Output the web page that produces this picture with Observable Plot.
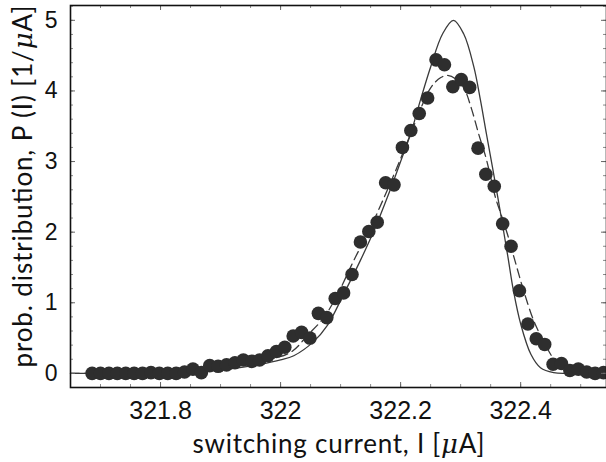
<!DOCTYPE html>
<html>
<head>
<meta charset="utf-8">
<script src="https://cdn.jsdelivr.net/npm/d3@7"></script>
<script src="https://cdn.jsdelivr.net/npm/@observablehq/plot@0.6"></script>
<style>
  html, body { margin: 0; padding: 0; background: #fff; }
  #chart { width: 606px; height: 462px; }
</style>
</head>
<body>
<div id="chart"></div>
<script>
// ---- measured switching-current histogram (dots) ----
const currentI = [
  321.686, 321.700, 321.714, 321.728, 321.742, 321.756, 321.770, 321.784, 321.798, 321.812,
  321.826, 321.840, 321.854, 321.868, 321.882, 321.896, 321.910, 321.924, 321.938, 321.952,
  321.965, 321.979, 321.993, 322.007, 322.021, 322.035, 322.049, 322.063, 322.077, 322.091,
  322.105, 322.119, 322.133, 322.147, 322.161, 322.175, 322.189, 322.203, 322.217, 322.231,
  322.245, 322.259, 322.273, 322.287, 322.301, 322.315, 322.329, 322.342, 322.356, 322.370,
  322.384, 322.398, 322.412, 322.426, 322.440, 322.454, 322.468, 322.482, 322.496, 322.510,
  322.524, 322.538
];
const measuredP = [
  0.00, 0.00, 0.00, 0.00, 0.00, 0.00, 0.00, 0.01, 0.00, 0.00,
  0.00, 0.02, 0.06, 0.01, 0.11, 0.10, 0.12, 0.15, 0.19, 0.17,
  0.19, 0.25, 0.31, 0.37, 0.53, 0.58, 0.50, 0.85, 0.79, 1.06,
  1.14, 1.40, 1.86, 2.01, 2.14, 2.70, 2.67, 3.20, 3.44, 3.68,
  3.90, 4.44, 4.37, 4.06, 4.16, 4.05, 3.19, 2.82, 2.65, 2.12,
  1.80, 1.17, 0.70, 0.49, 0.41, 0.13, 0.14, 0.04, 0.06, 0.02,
  0.00, 0.01
];

// ---- theory curve 1 (solid) ----
const solidI = [
  321.650, 321.733, 321.800, 321.855, 321.912, 321.967, 322.000, 322.022, 322.055, 322.078,
  322.105, 322.133, 322.158, 322.180, 322.200, 322.217, 322.233, 322.250, 322.270, 322.288,
  322.305, 322.322, 322.333, 322.343, 322.353, 322.362, 322.378, 322.388, 322.400, 322.417,
  322.433, 322.455, 322.478, 322.543
];
const solidP = [
  0.00, 0.003, 0.01, 0.025, 0.06, 0.13, 0.19, 0.25, 0.45, 0.68,
  1.12, 1.60, 2.07, 2.54, 3.00, 3.40, 3.87, 4.34, 4.81, 5.00,
  4.81, 4.34, 3.87, 3.39, 2.92, 2.49, 1.69, 1.17, 0.70, 0.27,
  0.08, 0.01, 0.00, 0.00
];

// ---- theory curve 2 (dashed) ----
const dashedI = [
  321.650, 321.733, 321.800, 321.855, 321.912, 321.967, 322.017, 322.045, 322.072, 322.095,
  322.122, 322.150, 322.175, 322.198, 322.217, 322.228, 322.238, 322.247, 322.257, 322.267,
  322.278, 322.292, 322.305, 322.318, 322.330, 322.342, 322.350, 322.358, 322.367, 322.378,
  322.392, 322.405, 322.422, 322.438, 322.458, 322.478, 322.500, 322.543
];
const dashedP = [
  0.00, 0.005, 0.015, 0.035, 0.08, 0.17, 0.30, 0.54, 0.79, 1.12,
  1.60, 2.07, 2.54, 3.00, 3.40, 3.63, 3.84, 4.00, 4.12, 4.19,
  4.22, 4.17, 4.05, 3.75, 3.39, 3.06, 2.78, 2.49, 2.26, 1.97,
  1.55, 1.17, 0.74, 0.46, 0.18, 0.10, 0.04, 0.01
];

// ---- ticks and labels ----
const xTickValues = [321.8, 322, 322.2, 322.4];
const xTickLabels = ["321.8", "322", "322.2", "322.4"];
const yTickValues = [0, 1, 2, 3, 4, 5];
const yTickLabels = ["0", "1", "2", "3", "4", "5"];
const xMinorTicks = d3.range(321.70, 322.54, 0.05).map(v => +v.toFixed(2));
const yMinorTicks = d3.range(0, 5.21, 0.2).map(v => +v.toFixed(1));
const xLabel = "switching current, I [μA]";
const yLabel = "prob. distribution, P (I) [1/μA]";

const points = currentI.map((x, i) => ({x, y: measuredP[i]}));
const solid = solidI.map((x, i) => ({x, y: solidP[i]}));
const dashed = dashedI.map((x, i) => ({x, y: dashedP[i]}));

const W = 606, H = 462, mT = 5, mB = 75, mL = 70, mR = 0;
const ph = H - mT - mB, pw = W - mL - mR;
const tickGray = "#8a8a8a";
const labelFont = "Lato, 'Open Sans', sans-serif";

const chart = Plot.plot({
  width: W, height: H,
  marginTop: mT, marginBottom: mB, marginLeft: mL, marginRight: mR,
  style: {background: "#fff", fontFamily: "'Liberation Sans', Arial, sans-serif", color: "#111"},
  x: {domain: [321.65, 322.543]},
  y: {domain: [-0.2, 5.21]},
  marks: [
    Plot.line(solid, {x: "x", y: "y", curve: "catmull-rom", stroke: "#3a3a3a", strokeWidth: 1.3}),
    Plot.line(dashed, {x: "x", y: "y", curve: "catmull-rom", stroke: "#3a3a3a", strokeWidth: 1.3, strokeDasharray: "9,5"}),
    Plot.dot(points, {x: "x", y: "y", r: 6.8, fill: "#2e2e2e", stroke: "none"}),
    // inward minor ticks
    Plot.ruleX(xMinorTicks, {x: d => d, insetBottom: ph - 3, stroke: tickGray}),
    Plot.ruleX(xMinorTicks, {x: d => d, insetTop: ph - 3, stroke: tickGray}),
    Plot.ruleY(yMinorTicks, {y: d => d, insetRight: pw - 3, stroke: tickGray}),
    Plot.ruleY(yMinorTicks, {y: d => d, insetLeft: pw - 3, stroke: tickGray}),
    // inward major ticks
    Plot.ruleX(xTickValues, {x: d => d, insetBottom: ph - 5, stroke: "#666"}),
    Plot.ruleX(xTickValues, {x: d => d, insetTop: ph - 5, stroke: "#666"}),
    Plot.ruleY(yTickValues, {y: d => d, insetRight: pw - 5, stroke: "#666"}),
    Plot.ruleY(yTickValues, {y: d => d, insetLeft: pw - 5, stroke: "#666"}),
    Plot.frame({stroke: "#111", strokeWidth: 1.6}),
    Plot.axisX({ticks: xTickValues, tickSize: 0, tickPadding: 14, fontSize: 25, label: null,
      tickFormat: d => xTickLabels[xTickValues.indexOf(d)]}),
    Plot.axisY({ticks: yTickValues, tickSize: 0, tickPadding: 13, fontSize: 23, label: null,
      tickFormat: d => yTickLabels[yTickValues.indexOf(d)]}),
    Plot.text([xLabel], {text: d => d, frameAnchor: "bottom", lineAnchor: "middle", textAnchor: "middle",
      dy: 57, fontSize: 26, fontFamily: labelFont, fill: "#111"}),
    Plot.text([yLabel], {text: d => d, frameAnchor: "left", lineAnchor: "middle", textAnchor: "middle",
      rotate: -90, dx: -47, dy: -10, fontSize: 26, fontFamily: labelFont, fill: "#111"})
  ]
});

// italicise the Greek mu in the axis titles and fit their lengths
chart.querySelectorAll("text").forEach(t => {
  if (t.children.length === 0 && t.textContent.includes("μ")) {
    const full = t.textContent;
    const parts = full.split("μ");
    t.textContent = "";
    parts.forEach((p, i) => {
      if (i > 0) {
        const mu = document.createElementNS("http://www.w3.org/2000/svg", "tspan");
        mu.setAttribute("font-style", "italic");
        mu.setAttribute("font-family", "'DejaVu Serif', serif");
        mu.textContent = "μ";
        t.appendChild(mu);
      }
      if (p) {
        const s = document.createElementNS("http://www.w3.org/2000/svg", "tspan");
        s.textContent = p;
        t.appendChild(s);
      }
    });
    t.setAttribute("textLength", full === xLabel ? 292 : 362);
    t.setAttribute("lengthAdjust", "spacing");
  }
});

document.getElementById("chart").appendChild(chart);
</script>
</body>
</html>
